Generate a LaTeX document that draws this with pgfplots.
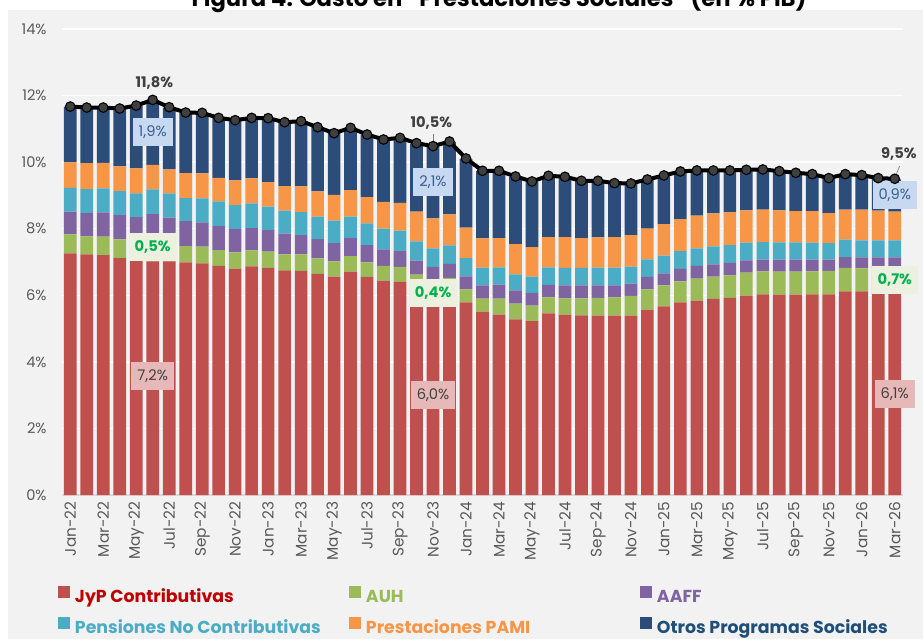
\documentclass[border=0pt]{standalone}
\usepackage{pgfplots}
\pgfplotsset{compat=1.18}
\usepackage{pgfplotstable}
\usepackage{fontspec}
\setmainfont{Poppins}
\definecolor{cRed}{HTML}{C0504D}
\definecolor{cGreen}{HTML}{9BBB59}
\definecolor{cPurple}{HTML}{8064A2}
\definecolor{cTeal}{HTML}{4BACC6}
\definecolor{cOrange}{HTML}{F79646}
\definecolor{cBlue}{HTML}{2C4D79}
\definecolor{lgRed}{HTML}{C00000}
\definecolor{lgBlue}{HTML}{1F4E79}
\definecolor{bgGray}{HTML}{F2F2F2}
\definecolor{tickGray}{HTML}{595959}
\definecolor{dkGray}{HTML}{404040}
\definecolor{boxBlue}{HTML}{C6D9F1}
\definecolor{txtBlue}{HTML}{3A5F8F}
\definecolor{boxGreen}{HTML}{EBF1DE}
\definecolor{txtGreen}{HTML}{00B050}
\definecolor{boxRed}{HTML}{E6B9B8}
\pgfplotstableread{
i red auh aaff pnc pami otros total
0 7.26 0.57 0.68 0.72 0.76 1.67 11.67
1 7.23 0.54 0.70 0.72 0.78 1.66 11.64
2 7.21 0.55 0.73 0.72 0.77 1.65 11.64
3 7.12 0.56 0.73 0.72 0.74 1.73 11.61
4 7.05 0.53 0.77 0.71 0.75 1.88 11.70
5 7.02 0.58 0.84 0.74 0.74 1.94 11.87
6 7.02 0.51 0.80 0.73 0.72 1.86 11.65
7 6.99 0.49 0.75 0.69 0.75 1.81 11.49
8 6.96 0.50 0.73 0.72 0.75 1.81 11.48
9 6.88 0.48 0.72 0.74 0.71 1.79 11.33
10 6.80 0.49 0.70 0.72 0.74 1.80 11.26
11 6.87 0.48 0.67 0.74 0.75 1.81 11.33
12 6.82 0.49 0.65 0.70 0.74 1.91 11.32
13 6.75 0.48 0.62 0.69 0.74 1.92 11.20
14 6.73 0.50 0.58 0.69 0.77 1.96 11.23
15 6.64 0.47 0.58 0.67 0.76 1.93 11.05
16 6.56 0.46 0.55 0.67 0.78 1.85 10.87
17 6.71 0.47 0.54 0.64 0.80 1.87 11.03
18 6.55 0.44 0.52 0.65 0.79 1.88 10.83
19 6.44 0.44 0.50 0.62 0.81 1.87 10.68
20 6.40 0.45 0.48 0.61 0.84 1.95 10.73
21 6.19 0.43 0.42 0.58 0.89 2.05 10.57
22 5.99 0.43 0.43 0.56 0.90 2.16 10.48
23 6.09 0.43 0.42 0.56 0.93 2.18 10.62
24 5.79 0.39 0.39 0.55 0.91 2.07 10.11
25 5.51 0.39 0.40 0.53 0.88 2.02 9.74
26 5.42 0.48 0.42 0.52 0.88 2.01 9.74
27 5.28 0.47 0.40 0.48 0.91 2.02 9.57
28 5.22 0.47 0.38 0.49 0.89 1.96 9.42
29 5.46 0.48 0.37 0.53 0.91 1.83 9.59
30 5.42 0.49 0.39 0.52 0.93 1.80 9.56
31 5.40 0.51 0.39 0.52 0.90 1.71 9.44
32 5.39 0.53 0.38 0.53 0.91 1.69 9.44
33 5.39 0.55 0.36 0.53 0.92 1.61 9.37
34 5.39 0.59 0.37 0.51 0.95 1.54 9.36
35 5.57 0.61 0.37 0.53 0.92 1.47 9.48
36 5.67 0.63 0.36 0.53 0.95 1.45 9.60
37 5.79 0.63 0.37 0.54 0.96 1.42 9.72
38 5.84 0.66 0.38 0.53 0.98 1.35 9.75
39 5.89 0.67 0.37 0.54 0.99 1.28 9.75
40 5.92 0.68 0.37 0.54 0.98 1.24 9.75
41 5.99 0.69 0.37 0.53 0.97 1.20 9.77
42 6.03 0.69 0.35 0.53 0.97 1.19 9.78
43 6.02 0.69 0.36 0.52 0.96 1.16 9.73
44 6.02 0.69 0.36 0.52 0.94 1.13 9.68
45 6.03 0.69 0.35 0.51 0.95 1.09 9.64
46 6.03 0.70 0.34 0.50 0.90 1.03 9.52
47 6.12 0.70 0.33 0.52 0.90 1.05 9.64
48 6.12 0.69 0.33 0.51 0.92 1.02 9.61
49 6.10 0.71 0.33 0.51 0.89 0.96 9.52
50 6.10 0.71 0.33 0.51 0.86 0.97 9.50
}\datatable
\begin{document}
\begin{tikzpicture}[
  lbl/.style={font=\fontsize{11}{13}\selectfont, inner xsep=4.5pt, minimum height=21pt},
  lblblue/.style={lbl, fill=boxBlue, text=txtBlue},
  lblgreen/.style={lbl, fill=boxGreen, text=txtGreen, font=\fontsize{11}{13}\selectfont\bfseries},
  lblred/.style={lbl, fill=boxRed, text=dkGray},
  lbltot/.style={font=\fontsize{11}{13}\selectfont\bfseries, text=dkGray, inner sep=1pt}]
\path[use as bounding box] (0pt,0pt) rectangle (692.25pt,479.25pt);
\fill[bgGray] (6pt,0pt) rectangle (692.25pt,471.75pt);
\node[anchor=base, inner sep=0pt, font=\fontsize{17}{20}\selectfont\bfseries] at (374.25pt,474pt) {Figura 4: Gasto en ``Prestaciones Sociales'' (en \% PIB)};
\begin{axis}[
  at={(46.5pt,108pt)}, anchor=south west,
  width=630.75pt, height=349.5pt, scale only axis,
  xmin=-0.5, xmax=50.5, ymin=0, ymax=14,
  ybar stacked, bar width=9.5pt,
  axis line style={draw=none},
  ytick={0,2,...,14},
  yticklabel={\pgfmathprintnumber{\tick}\%},
  ymajorgrids, grid style={white, line width=1.1pt},
  extra y ticks={0}, extra y tick labels={},
  extra y tick style={grid style={black!15, line width=1pt}},
  major tick style={draw=none},
  minor tick style={draw=none},
  xtick={0,2,...,50},
  xticklabels={Jan-22,Mar-22,May-22,Jul-22,Sep-22,Nov-22,Jan-23,Mar-23,May-23,Jul-23,Sep-23,Nov-23,Jan-24,Mar-24,May-24,Jul-24,Sep-24,Nov-24,Jan-25,Mar-25,May-25,Jul-25,Sep-25,Nov-25,Jan-26,Mar-26},
  ticklabel style={font=\fontsize{11}{13}\selectfont, text=tickGray},
  xticklabel style={rotate=90, anchor=east, xshift=-1.5pt, font=\fontsize{11.5}{13}\selectfont},
  yticklabel style={xshift=-8pt},
  /pgf/number format/assume math mode=true,
  legend columns=3,
  legend image code/.code={\fill[#1] (0pt,0pt) rectangle (9pt,9pt);},
  legend style={draw=none, fill=none, inner sep=0pt, outer sep=0pt,
    at={(-0.00476,-0.1951)}, anchor=north west,
    font=\fontsize{13}{15}\selectfont\bfseries,
    nodes={inner sep=0pt, text height=10pt, text depth=3pt},
    row sep=7.7pt,
    /tikz/every odd column/.append style={column sep=3.75pt}},
  legend cell align=left,
]
\addplot[fill=cRed, draw=none] table[x=i, y=red]{\datatable};
\addlegendentry{\makebox[205.5pt][l]{\textcolor{lgRed}{JyP Contributivas}}}
\addplot[fill=cGreen, draw=none] table[x=i, y=auh]{\datatable};
\addlegendentry{\makebox[205.5pt][l]{\textcolor{cGreen}{AUH}}}
\addplot[fill=cPurple, draw=none] table[x=i, y=aaff]{\datatable};
\addlegendentry{\textcolor{cPurple}{AAFF}}
\addplot[fill=cTeal, draw=none] table[x=i, y=pnc]{\datatable};
\addlegendentry{\makebox[205.5pt][l]{\textcolor{cTeal}{Pensiones No Contributivas}}}
\addplot[fill=cOrange, draw=none] table[x=i, y=pami]{\datatable};
\addlegendentry{\makebox[205.5pt][l]{\textcolor{cOrange}{Prestaciones PAMI}}}
\addplot[fill=cBlue, draw=none] table[x=i, y=otros]{\datatable};
\addlegendentry{\textcolor{lgBlue}{Otros Programas Sociales}}
\end{axis}
\begin{axis}[
  at={(46.5pt,108pt)}, anchor=south west,
  width=630.75pt, height=349.5pt, scale only axis,
  xmin=-0.5, xmax=50.5, ymin=0, ymax=14,
  hide axis, clip=false,
]
\addplot[black, line width=3pt, mark=*, mark size=3.6pt, mark options={fill=dkGray, draw=black, line width=0.8pt}] table[x=i, y=total]{\datatable};
\draw[gray, line width=0.5pt] (axis cs:22,10.84) -- (axis cs:22,10.55);
\draw[gray, line width=0.5pt] (axis cs:50.29,9.88) -- (axis cs:50.05,9.58);
\node[lbltot] at (axis cs:5.1,12.38) {11,8\%};
\node[lblblue] at (axis cs:5,10.90) {1,9\%};
\node[lblgreen] at (axis cs:5,7.44) {0,5\%};
\node[lblred] at (axis cs:5,3.58) {7,2\%};
\node[lbltot] at (axis cs:21.9,11.17) {10,5\%};
\node[lblblue] at (axis cs:22,9.40) {2,1\%};
\node[lblgreen] at (axis cs:22,6.08) {0,4\%};
\node[lblred] at (axis cs:22,3.01) {6,0\%};
\node[lbltot] at (axis cs:50.25,10.24) {9,5\%};
\node[lblblue] at (axis cs:50,9.01) {0,9\%};
\node[lblgreen] at (axis cs:50,6.45) {0,7\%};
\node[lblred] at (axis cs:50,3.04) {6,1\%};
\end{axis}
\end{tikzpicture}
\end{document}
